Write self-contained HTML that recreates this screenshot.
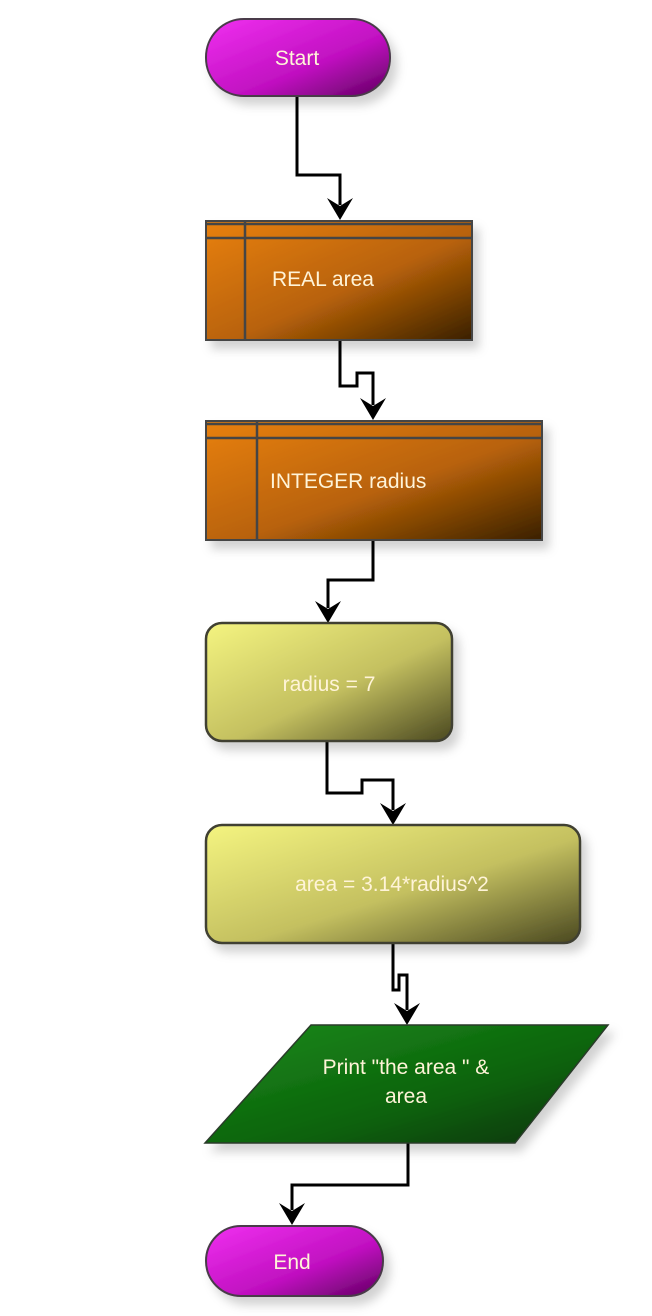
<!DOCTYPE html>
<html><head><meta charset="utf-8"><style>
html,body{margin:0;padding:0;background:#fff;}
svg{display:block;}
text{font-family:"Liberation Sans",sans-serif;font-size:21px;fill:#fff4d8;}
</style></head><body>
<svg width="652" height="1316" viewBox="0 0 652 1316" xmlns="http://www.w3.org/2000/svg">
<defs>
<linearGradient id="pk" x1="0" y1="0" x2="1" y2="1"><stop offset="0" stop-color="#f030f0"/><stop offset="0.6" stop-color="#c010c0"/><stop offset="1" stop-color="#600060"/></linearGradient>
<linearGradient id="or" x1="0" y1="0" x2="1" y2="1"><stop offset="0" stop-color="#e8800c"/><stop offset="0.55" stop-color="#b86208"/><stop offset="1" stop-color="#3a2000"/></linearGradient>
<linearGradient id="ye" x1="0" y1="0" x2="1" y2="1"><stop offset="0" stop-color="#f4f480"/><stop offset="0.55" stop-color="#c4c060"/><stop offset="1" stop-color="#4a4820"/></linearGradient>
<linearGradient id="gr" x1="0" y1="0" x2="1" y2="1"><stop offset="0" stop-color="#1a8a1a"/><stop offset="0.6" stop-color="#0c620c"/><stop offset="1" stop-color="#053005"/></linearGradient>
<filter id="sh" x="-10%" y="-10%" width="130%" height="140%"><feDropShadow dx="6" dy="8" stdDeviation="5" flood-color="#000" flood-opacity="0.18"/></filter>
</defs>

<!-- connectors -->
<g fill="none" stroke="#000" stroke-width="3">
<polyline points="297,97 297,175 340,175 340,205"/>
<polyline points="340,340 340,386 357,386 357,373 373,373 373,405"/>
<polyline points="373,541 373,580 328,580 328,608"/>
<polyline points="327,742 327,793 362,793 362,780 393,780 393,810"/>
<polyline points="393,943 393,990 399,990 399,975 407,975 407,1010"/>
<polyline points="408,1143 408,1185 292,1185 292,1210"/>
</g>
<g fill="#000">
<path d="M340,220 L327,198 L340,206 L353,198 Z"/>
<path d="M373,420 L360,398 L373,406 L386,398 Z"/>
<path d="M328,623 L315,601 L328,609 L341,601 Z"/>
<path d="M393,825 L380,803 L393,811 L406,803 Z"/>
<path d="M407,1025 L394,1003 L407,1011 L420,1003 Z"/>
<path d="M292,1225 L279,1203 L292,1211 L305,1203 Z"/>
</g>

<!-- Start -->
<rect x="206" y="19" width="184" height="77" rx="38" fill="url(#pk)" stroke="#4a3a4a" stroke-width="2" filter="url(#sh)"/>
<text x="297" y="65" text-anchor="middle">Start</text>

<!-- REAL area -->
<rect x="206" y="221" width="266" height="119" fill="url(#or)" stroke="#454545" stroke-width="2" filter="url(#sh)"/>
<g stroke="#454545" stroke-width="2.5"><line x1="206" y1="224" x2="472" y2="224"/><line x1="206" y1="238" x2="472" y2="238"/><line x1="245" y1="221" x2="245" y2="340"/></g>
<text x="272" y="286">REAL  area</text>

<!-- INTEGER radius -->
<rect x="206" y="421" width="336" height="119" fill="url(#or)" stroke="#454545" stroke-width="2" filter="url(#sh)"/>
<g stroke="#454545" stroke-width="2.5"><line x1="206" y1="424" x2="542" y2="424"/><line x1="206" y1="438" x2="542" y2="438"/><line x1="257" y1="421" x2="257" y2="540"/></g>
<text x="270" y="488">INTEGER  radius</text>

<!-- radius = 7 -->
<rect x="206" y="623" width="246" height="118" rx="16" fill="url(#ye)" stroke="#404030" stroke-width="2.5" filter="url(#sh)"/>
<text x="329" y="691" text-anchor="middle">radius = 7</text>

<!-- area = -->
<rect x="206" y="825" width="374" height="118" rx="16" fill="url(#ye)" stroke="#404030" stroke-width="2.5" filter="url(#sh)"/>
<text x="392" y="891" text-anchor="middle">area = 3.14*radius^2</text>

<!-- Print -->
<polygon points="311,1025 608,1025 515,1143 205,1143" fill="url(#gr)" stroke="#2a3a2a" stroke-width="1.5" filter="url(#sh)"/>
<text x="406" y="1074" text-anchor="middle">Print "the area " &amp;</text>
<text x="406" y="1103" text-anchor="middle">area</text>

<!-- End -->
<rect x="206" y="1226" width="177" height="70" rx="35" fill="url(#pk)" stroke="#4a3a4a" stroke-width="2" filter="url(#sh)"/>
<text x="292" y="1269" text-anchor="middle">End</text>
</svg>
</body></html>
